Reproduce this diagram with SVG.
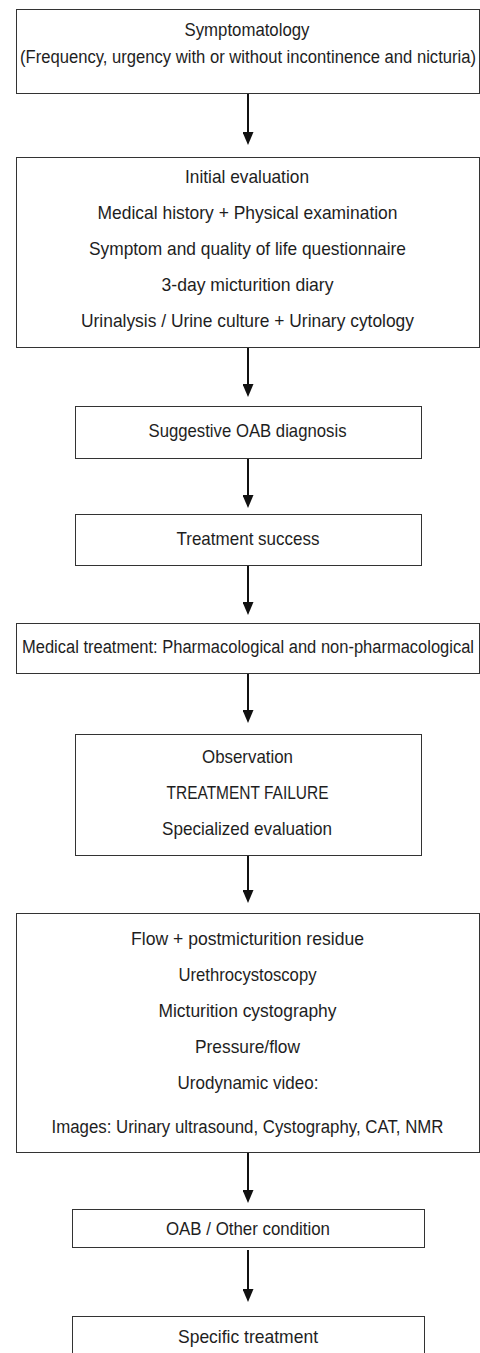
<svg xmlns="http://www.w3.org/2000/svg" width="480" height="1353" viewBox="0 0 480 1353">
<style>
.box{fill:#fff;stroke:#333;stroke-width:1}
.t{font-family:"Liberation Sans",Arial,sans-serif;font-size:19px;fill:#1e1e1e;text-anchor:middle}
.c{stroke:#111;stroke-width:2;fill:none;marker-end:url(#ah)}
</style>
<defs>
<marker id="ah" viewBox="0 0 13 11" refX="6" refY="5.5" markerWidth="13" markerHeight="11" markerUnits="userSpaceOnUse" orient="auto">
<path d="M0,0 L13,5.5 L0,11 z" fill="#111"/>
</marker>
</defs>
<rect width="480" height="1353" fill="#fff"/>
<g id="connectors">
<line class="c" x1="248" y1="93" x2="248" y2="138"/>
<line class="c" x1="248" y1="347" x2="248" y2="390"/>
<line class="c" x1="248" y1="458" x2="248" y2="501"/>
<line class="c" x1="248" y1="565" x2="248" y2="608"/>
<line class="c" x1="248" y1="673" x2="248" y2="716"/>
<line class="c" x1="248" y1="855" x2="248" y2="896"/>
<line class="c" x1="248" y1="1152" x2="248" y2="1196"/>
<line class="c" x1="248" y1="1250" x2="248" y2="1295"/>
</g>
<g id="n1">
<rect class="box" x="16.5" y="9.5" width="463" height="84"/>
<text class="t" x="247" y="36" textLength="125" lengthAdjust="spacingAndGlyphs">Symptomatology</text>
<text class="t" x="0" y="0" transform="translate(248,63) scale(0.8,1)" textLength="570" lengthAdjust="spacingAndGlyphs">(Frequency, urgency with or without incontinence and nicturia)</text>
</g>
<g id="n2">
<rect class="box" x="16.5" y="157.5" width="463" height="190"/>
<text class="t" x="247" y="183" textLength="124" lengthAdjust="spacingAndGlyphs">Initial evaluation</text>
<text class="t" x="247.5" y="219" textLength="300" lengthAdjust="spacingAndGlyphs">Medical history + Physical examination</text>
<text class="t" x="247.5" y="255" textLength="317" lengthAdjust="spacingAndGlyphs">Symptom and quality of life questionnaire</text>
<text class="t" x="247.5" y="291" textLength="172" lengthAdjust="spacingAndGlyphs">3-day micturition diary</text>
<text class="t" x="247.5" y="327" textLength="333" lengthAdjust="spacingAndGlyphs">Urinalysis / Urine culture + Urinary cytology</text>
</g>
<g id="n3">
<rect class="box" x="75.5" y="406.5" width="346" height="52"/>
<text class="t" x="247.5" y="437" textLength="198" lengthAdjust="spacingAndGlyphs">Suggestive OAB diagnosis</text>
</g>
<g id="n4">
<rect class="box" x="75.5" y="514.5" width="346" height="51"/>
<text class="t" x="248" y="545" textLength="143" lengthAdjust="spacingAndGlyphs">Treatment success</text>
</g>
<g id="n5">
<rect class="box" x="16.5" y="623.5" width="463" height="50"/>
<text class="t" x="0" y="0" transform="translate(248,653) scale(0.8,1)" textLength="565" lengthAdjust="spacingAndGlyphs">Medical treatment: Pharmacological and non-pharmacological</text>
</g>
<g id="n6">
<rect class="box" x="75.5" y="734.5" width="346" height="121"/>
<text class="t" x="247.5" y="763" textLength="91" lengthAdjust="spacingAndGlyphs">Observation</text>
<text class="t" x="247.5" y="799" textLength="162" lengthAdjust="spacingAndGlyphs">TREATMENT FAILURE</text>
<text class="t" x="247" y="835" textLength="170" lengthAdjust="spacingAndGlyphs">Specialized evaluation</text>
</g>
<g id="n7">
<rect class="box" x="16.5" y="913.5" width="463" height="239"/>
<text class="t" x="247.5" y="945" textLength="233" lengthAdjust="spacingAndGlyphs">Flow + postmicturition residue</text>
<text class="t" x="247.5" y="981" textLength="138" lengthAdjust="spacingAndGlyphs">Urethrocystoscopy</text>
<text class="t" x="247.5" y="1017" textLength="178" lengthAdjust="spacingAndGlyphs">Micturition cystography</text>
<text class="t" x="247.5" y="1053" textLength="105" lengthAdjust="spacingAndGlyphs">Pressure/flow</text>
<text class="t" x="248" y="1089" textLength="141" lengthAdjust="spacingAndGlyphs">Urodynamic video:</text>
<text class="t" x="0" y="0" transform="translate(247.5,1133) scale(0.85,1)" textLength="461" lengthAdjust="spacingAndGlyphs">Images: Urinary ultrasound, Cystography, CAT, NMR</text>
</g>
<g id="n8">
<rect class="box" x="72.5" y="1209.5" width="352" height="38"/>
<text class="t" x="248" y="1235" textLength="164" lengthAdjust="spacingAndGlyphs">OAB / Other condition</text>
</g>
<g id="n9">
<rect class="box" x="72.5" y="1316.5" width="352" height="50"/>
<text class="t" x="248" y="1343" textLength="140" lengthAdjust="spacingAndGlyphs">Specific treatment</text>
</g>
</svg>
